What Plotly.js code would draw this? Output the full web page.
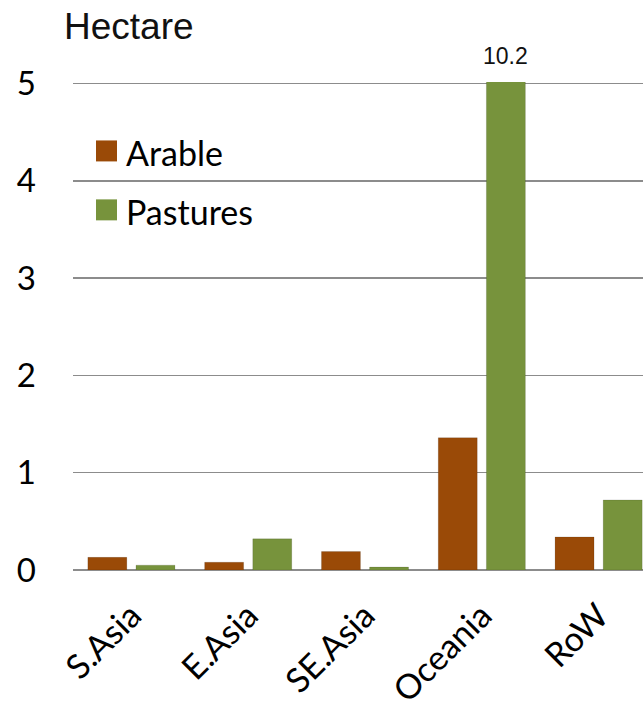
<!DOCTYPE html>
<html>
<head>
<meta charset="utf-8">
<script src="https://cdn.plot.ly/plotly-3.0.1.min.js"></script>
<style>html,body{margin:0;padding:0;background:#fff;}#chart{width:643px;height:710px;}</style>
</head>
<body>
<div id="chart"></div>
<script>
const categories = ['S.Asia', 'E.Asia', 'SE.Asia', 'Oceania', 'RoW'];
const seriesNames = ['Arable', 'Pastures'];
const arable = [0.13, 0.08, 0.19, 1.36, 0.34];
const pastures = [0.05, 0.32, 0.03, 10.2, 0.72];
const yTicks = [0, 1, 2, 3, 4, 5];
const overflowLabel = '10.2';
const colors = ['#9A4A07', '#77933C'];

const sansFont = 'Lato, "Open Sans", sans-serif';
const lightFont = '"Liberation Sans", Helvetica, Arial, sans-serif';

const traces = [arable, pastures].map((vals, i) => ({
  type: 'bar',
  name: seriesNames[i],
  x: categories,
  y: vals,
  marker: {color: colors[i], line: {color: 'rgba(0,0,0,0.12)', width: 1}},
  hoverinfo: 'x+y+name',
  showlegend: false,
  cliponaxis: true
}));

// plot area in pixels (top a hair above the "5" gridline so it is drawn)
const L = 73, T = 81.5, W = 570, H = 488.5;
const px = x => (x - L) / W;
const py = y => (T + H - y) / H;

const legendShapes = seriesNames.map((n, i) => ({
  type: 'rect', xref: 'paper', yref: 'paper',
  x0: px(96), x1: px(117),
  y0: py(161 + i * 59), y1: py(140 + i * 59),
  fillcolor: colors[i], line: {width: 0}
}));
const legendTexts = seriesNames.map((n, i) => ({
  text: n, xref: 'paper', yref: 'paper',
  x: px(124), y: py(152 + i * 59),
  xanchor: 'left', yanchor: 'middle', showarrow: false,
  font: {family: sansFont, size: 34, color: '#000'}
}));

const layout = {
  width: 643, height: 710,
  margin: {l: L, r: 643 - L - W, t: T, b: 710 - T - H, pad: 0},
  paper_bgcolor: '#fff', plot_bgcolor: '#fff',
  barmode: 'group', bargap: 0.176, bargroupgap: 0.19,
  title: {
    text: 'Hectare', xref: 'container', yref: 'container',
    x: 64 / 643, xanchor: 'left', y: 1 - 26 / 710, yanchor: 'middle',
    font: {family: lightFont, size: 37, color: '#111', weight: 300}
  },
  xaxis: {
    range: [-0.5, 4.38],
    tickangle: -45,
    tickfont: {family: sansFont, size: 34, color: '#000'},
    showgrid: false, zeroline: false, showline: false,
    ticks: '', ticklabelstandoff: 18, fixedrange: true
  },
  yaxis: {
    range: [0, 5.015],
    tickvals: yTicks,
    ticktext: yTicks.map(String),
    tickfont: {family: sansFont, size: 33, color: '#000'},
    showgrid: true, gridcolor: '#8c8c8c', gridwidth: 1.5,
    zeroline: true, zerolinecolor: '#8c8c8c', zerolinewidth: 1.5,
    showline: false, ticks: '', ticklabelstandoff: 36, fixedrange: true
  },
  shapes: legendShapes,
  annotations: legendTexts.concat([{
    text: overflowLabel, x: categories[3], xref: 'x', xshift: 24,
    y: py(55), yref: 'paper', xanchor: 'center', yanchor: 'middle',
    showarrow: false, font: {family: lightFont, size: 23, color: '#111'}
  }]),
  showlegend: false
};

Plotly.newPlot('chart', traces, layout, {displayModeBar: false, staticPlot: true});
</script>
</body>
</html>
